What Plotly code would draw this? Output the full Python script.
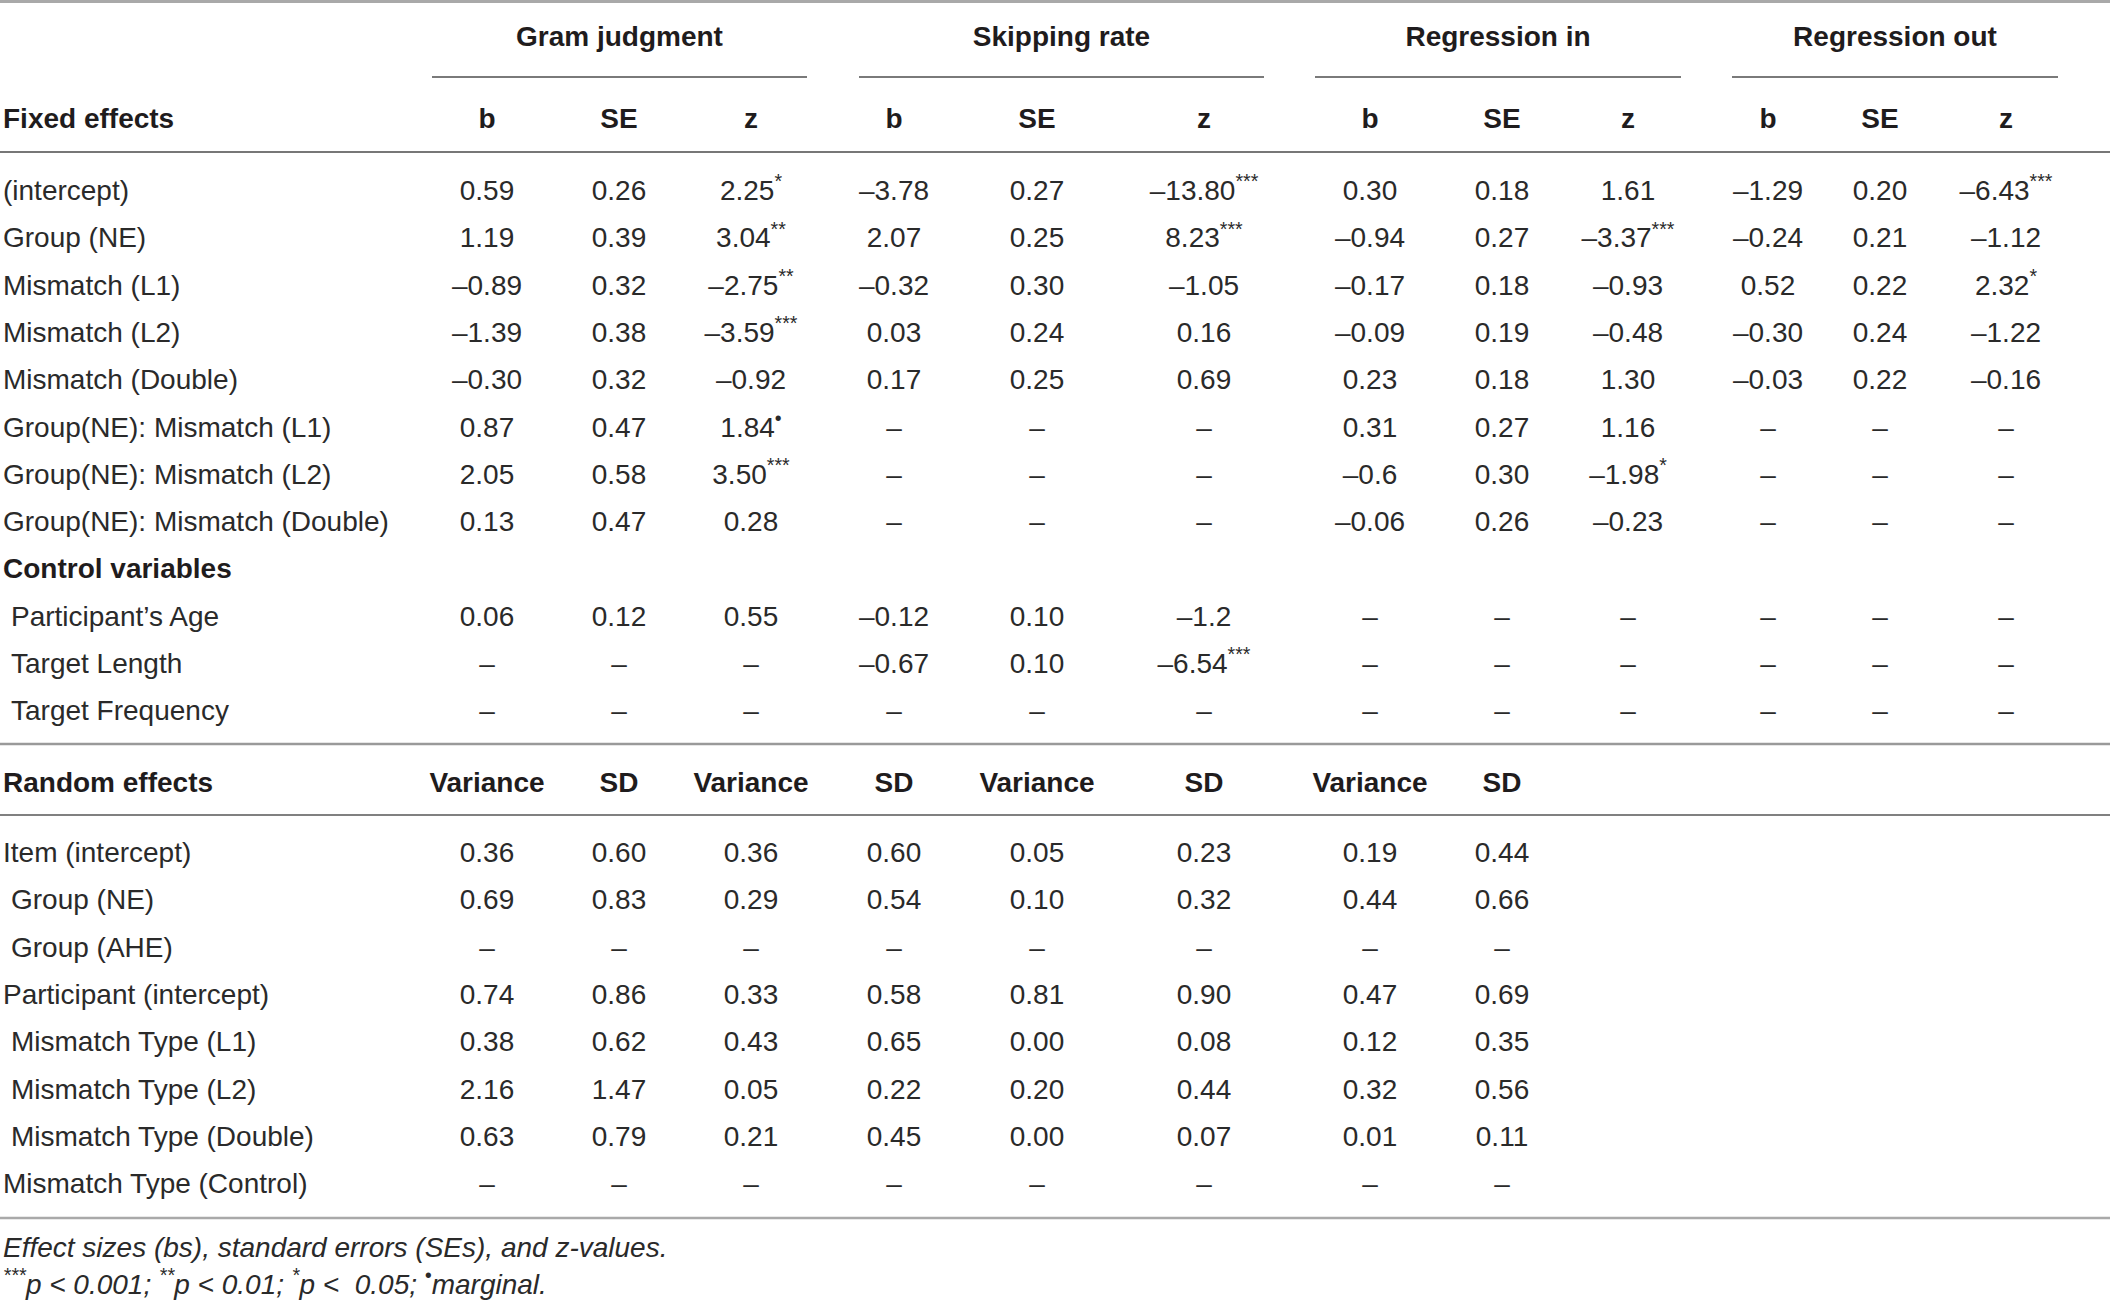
import plotly.graph_objects as go

# -- table content
group_names = ["Gram judgment", "Skipping rate", "Regression in", "Regression out"]
fixed_cols = ["b", "SE", "z"] * 4
random_cols = ["Variance", "SD"] * 4

fixed_labels = ["(intercept)", "Group (NE)", "Mismatch (L1)", "Mismatch (L2)", "Mismatch (Double)",
                "Group(NE): Mismatch (L1)", "Group(NE): Mismatch (L2)", "Group(NE): Mismatch (Double)"]
control_labels = ["Participant’s Age", "Target Length", "Target Frequency"]

# fixed effect rows followed by the 3 control rows
gram_b = ["0.59", "1.19", "–0.89", "–1.39", "–0.30", "0.87", "2.05", "0.13", "0.06", "–", "–"]
gram_se = ["0.26", "0.39", "0.32", "0.38", "0.32", "0.47", "0.58", "0.47", "0.12", "–", "–"]
gram_z = ["2.25*", "3.04**", "–2.75**", "–3.59***", "–0.92", "1.84•", "3.50***", "0.28", "0.55", "–", "–"]
skip_b = ["–3.78", "2.07", "–0.32", "0.03", "0.17", "–", "–", "–", "–0.12", "–0.67", "–"]
skip_se = ["0.27", "0.25", "0.30", "0.24", "0.25", "–", "–", "–", "0.10", "0.10", "–"]
skip_z = ["–13.80***", "8.23***", "–1.05", "0.16", "0.69", "–", "–", "–", "–1.2", "–6.54***", "–"]
regin_b = ["0.30", "–0.94", "–0.17", "–0.09", "0.23", "0.31", "–0.6", "–0.06", "–", "–", "–"]
regin_se = ["0.18", "0.27", "0.18", "0.19", "0.18", "0.27", "0.30", "0.26", "–", "–", "–"]
regin_z = ["1.61", "–3.37***", "–0.93", "–0.48", "1.30", "1.16", "–1.98*", "–0.23", "–", "–", "–"]
regout_b = ["–1.29", "–0.24", "0.52", "–0.30", "–0.03", "–", "–", "–", "–", "–", "–"]
regout_se = ["0.20", "0.21", "0.22", "0.24", "0.22", "–", "–", "–", "–", "–", "–"]
regout_z = ["–6.43***", "–1.12", "2.32*", "–1.22", "–0.16", "–", "–", "–", "–", "–", "–"]

random_labels = ["Item (intercept)", "Group (NE)", "Group (AHE)", "Participant (intercept)",
                 "Mismatch Type (L1)", "Mismatch Type (L2)", "Mismatch Type (Double)", "Mismatch Type (Control)"]
random_indent = [False, True, True, False, True, True, True, False]
rand_var_1 = ["0.36", "0.69", "–", "0.74", "0.38", "2.16", "0.63", "–"]
rand_sd_1 = ["0.60", "0.83", "–", "0.86", "0.62", "1.47", "0.79", "–"]
rand_var_2 = ["0.36", "0.29", "–", "0.33", "0.43", "0.05", "0.21", "–"]
rand_sd_2 = ["0.60", "0.54", "–", "0.58", "0.65", "0.22", "0.45", "–"]
rand_var_3 = ["0.05", "0.10", "–", "0.81", "0.00", "0.20", "0.00", "–"]
rand_sd_3 = ["0.23", "0.32", "–", "0.90", "0.08", "0.44", "0.07", "–"]
rand_var_4 = ["0.19", "0.44", "–", "0.47", "0.12", "0.32", "0.01", "–"]
rand_sd_4 = ["0.44", "0.66", "–", "0.69", "0.35", "0.56", "0.11", "–"]

footnotes = ["Effect sizes (bs), standard errors (SEs), and z-values.",
             "<sup>***</sup>p &lt; 0.001; <sup>**</sup>p &lt; 0.01; <sup>*</sup>p &lt;\u00a0 0.05; <sup>•</sup>marginal."]

# -- layout (pixel units, y grows downwards)
W, H = 2110, 1300
COL_X = [487, 619, 751, 894, 1037, 1204, 1370, 1502, 1628, 1768, 1880, 2006]
GROUP_SPAN = [(432, 807), (859, 1264), (1315, 1681), (1732, 2058)]
LABEL_X, INDENT_X = 3, 11
Y_GROUP, Y_UNDER, Y_HEAD = 39, 77, 121
Y_FIXED0, Y_RAND_HEAD, Y_RAND0, STEP = 193, 785, 855, 47.3
Y_NOTE = [1250, 1287]

FONT = "Liberation Sans"
TXT = "#2a2a2a"
HEAD = "#1f1c1d"
SIZE = 28


def fmt(cell):
    core = cell.rstrip("*•")
    mark = cell[len(core):]
    return core + ("<sup>" + mark + "</sup>" if mark else "")


def text_trace(xs, ys, texts, pos="middle center", bold=False, italic=False, color=TXT):
    return go.Scatter(x=xs, y=ys, text=texts, mode="text", textposition=pos,
                      textfont=dict(family=FONT, size=SIZE, color=color,
                                    weight="bold" if bold else "normal",
                                    style="italic" if italic else "normal"),
                      hoverinfo="skip", showlegend=False, cliponaxis=False)


fig = go.Figure()

# -- headers
group_x = [(a + b) / 2 for a, b in GROUP_SPAN]
fig.add_trace(text_trace(group_x, [Y_GROUP] * 4, group_names, bold=True, color=HEAD))
fig.add_trace(text_trace(COL_X, [Y_HEAD] * 12, fixed_cols, bold=True, color=HEAD))
fig.add_trace(text_trace([LABEL_X], [Y_HEAD], ["Fixed effects"], pos="middle right", bold=True, color=HEAD))

# -- fixed effects + control variables
n_fix = len(fixed_labels)
row_y = [Y_FIXED0 + STEP * i for i in range(n_fix)]
ctrl_head_y = Y_FIXED0 + STEP * n_fix
ctrl_y = [Y_FIXED0 + STEP * (n_fix + 1 + i) for i in range(len(control_labels))]
fig.add_trace(text_trace([LABEL_X] * n_fix, row_y, fixed_labels, pos="middle right"))
fig.add_trace(text_trace([LABEL_X], [ctrl_head_y], ["Control variables"], pos="middle right", bold=True, color=HEAD))
fig.add_trace(text_trace([INDENT_X] * len(control_labels), ctrl_y, control_labels, pos="middle right"))

fixed_data = [gram_b, gram_se, gram_z, skip_b, skip_se, skip_z,
              regin_b, regin_se, regin_z, regout_b, regout_se, regout_z]
data_y = row_y + ctrl_y
for x, col in zip(COL_X, fixed_data):
    fig.add_trace(text_trace([x] * len(col), data_y, [fmt(c) for c in col]))

# -- random effects
fig.add_trace(text_trace([LABEL_X], [Y_RAND_HEAD], ["Random effects"], pos="middle right", bold=True, color=HEAD))
fig.add_trace(text_trace(COL_X[:8], [Y_RAND_HEAD] * 8, random_cols, bold=True, color=HEAD))
rand_y = [Y_RAND0 + STEP * i for i in range(len(random_labels))]
fig.add_trace(text_trace([INDENT_X if ind else LABEL_X for ind in random_indent], rand_y,
                         random_labels, pos="middle right"))
random_data = [rand_var_1, rand_sd_1, rand_var_2, rand_sd_2, rand_var_3, rand_sd_3, rand_var_4, rand_sd_4]
for x, col in zip(COL_X[:8], random_data):
    fig.add_trace(text_trace([x] * len(col), rand_y, col))

# -- footnotes
fig.add_trace(text_trace([LABEL_X] * 2, Y_NOTE, footnotes, pos="middle right", italic=True))

# -- rules
def hline(x0, x1, y, color, width):
    fig.add_shape(type="line", xref="x", yref="y", x0=x0, x1=x1, y0=y, y1=y,
                  line=dict(color=color, width=width))

hline(0, W, 1.5, "#a9a9a9", 3)
for a, b in GROUP_SPAN:
    hline(a, b, Y_UNDER, "#7a7a7a", 2)
hline(0, W, 152, "#777777", 2)
hline(0, W, 744, "#9a9a9a", 2.5)
hline(0, W, 815, "#808080", 2)
hline(0, W, 1218, "#a9a9a9", 2.5)

fig.update_layout(width=W, height=H, margin=dict(l=0, r=0, t=0, b=0),
                  paper_bgcolor="white", plot_bgcolor="white")
fig.update_xaxes(range=[0, W], visible=False, fixedrange=True)
fig.update_yaxes(range=[H, 0], visible=False, fixedrange=True)

fig.write_html("out.html", config={"displayModeBar": False},
               post_script="document.body.style.margin='0';")
